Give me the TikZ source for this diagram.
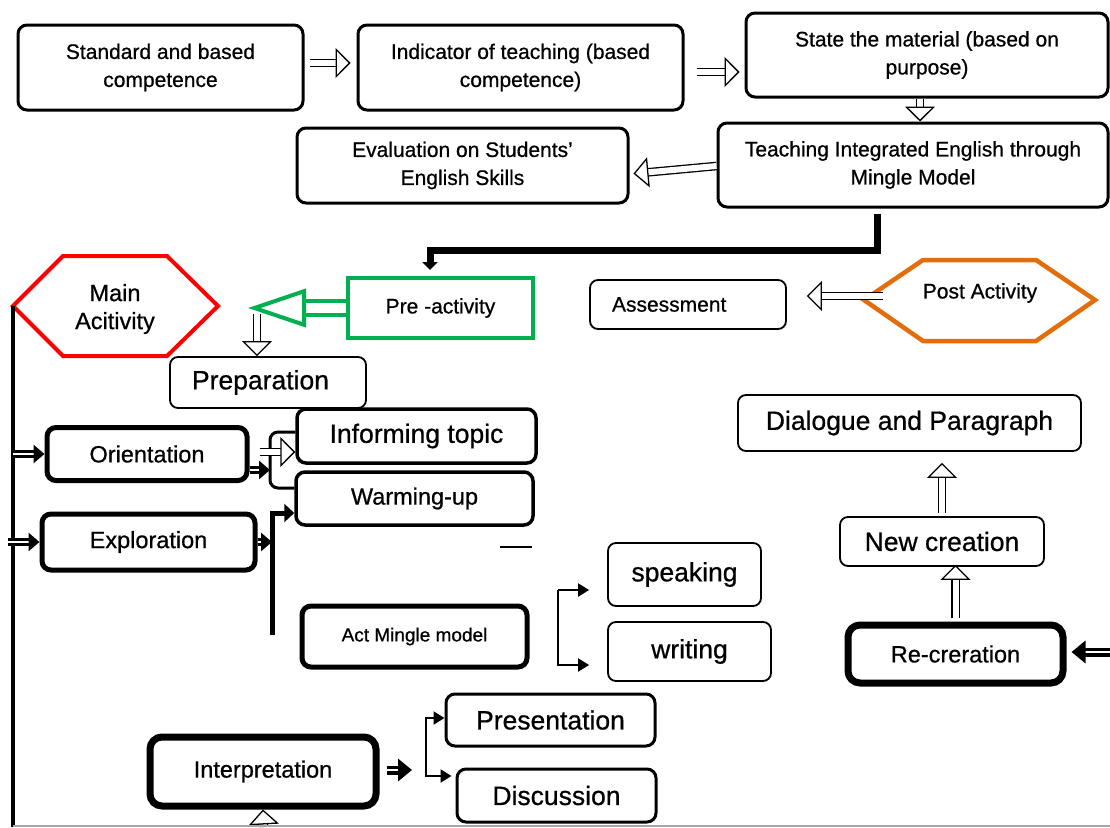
\documentclass[tikz,border=0pt]{standalone}
\usepackage{fontspec}
\setmainfont{Liberation Sans}[FakeBold=0.7,AutoFakeBold=0.7]
\usetikzlibrary{arrows.meta}
\definecolor{hexred}{RGB}{255,0,0}
\definecolor{pregreen}{RGB}{0,176,80}
\definecolor{postorange}{RGB}{228,108,10}

\begin{document}
\begin{tikzpicture}[x=1pt,y=-1pt,
    fn/.style={font=\fontsize{21}{28}\selectfont\bfseries},
    fm/.style={font=\fontsize{23.5}{28}\selectfont\bfseries},
    fl/.style={font=\fontsize{26.5}{30}\selectfont\bfseries},
    box/.style={draw, rounded corners=9pt, line width=3pt, inner sep=0pt, align=center, fn},
    thinbox/.style={box, line width=1.8pt, rounded corners=8pt, fl},
    hollow/.style={double=white, double distance=6pt, line width=1.3pt,
        -{Triangle[open, fill=white, length=15pt, width=30pt, line width=1.3pt]}},
    blk/.style={double=white, double distance=2pt, line width=3pt, -{Triangle[length=11pt, width=18pt]}},
    blkbig/.style={double=white, double distance=2pt, line width=3.5pt, -{Triangle[length=14pt, width=22pt]}},
    brk/.style={line width=2pt, -{Triangle[length=11pt, width=13pt]}}]

    % page frame
    \useasboundingbox (0,0) rectangle (1110,827);

    % top row
    \node[box, minimum width=285pt, minimum height=85pt] (std) at (160.5,67.5) {Standard and based\\competence};
    \node[box, minimum width=325pt, minimum height=85pt] (ind) at (520.5,67.5) {Indicator of teaching (based\\competence)};
    \node[box, minimum width=362pt, minimum height=84pt] (mat) at (927,55) {State the material (based on\\purpose)};
    \node[box, minimum width=390pt, minimum height=84pt] (tie) at (913,165) {Teaching Integrated English through\\Mingle Model};
    \node[box, minimum width=331pt, minimum height=75pt] (eva) at (462.5,165.5) {Evaluation on Students'\\English Skills};

    \draw[hollow, shorten <=5pt, shorten >=6pt] ([yshift=4.5pt]std.east) -- ([yshift=4.5pt]ind.west);
    \draw[hollow, shorten <=12pt, shorten >=5pt] ([yshift=-4.5pt]ind.east) -- ([yshift=-17pt]mat.west);
    \draw[hollow] ([xshift=-7pt]mat.south) -- ([xshift=7pt]tie.north);
    \draw[hollow, shorten >=4pt] ([yshift=-1pt]tie.west) -- ([yshift=-8.5pt]eva.east);

    % main activity
    \node[fm, align=center] (main) at (115,309) {Main\\Acitivity};
    \draw[hexred, line width=4pt] (13,306) -- (63,256) -- (167,256) -- (218,306) -- (167,356) -- (63,356) -- cycle;
    \coordinate (spine) at (13,306);
    \coordinate (spineb) at (13,827);
    \draw[line width=4.5pt] (spine) -- (spineb);

    % pre-activity
    \node[draw=pregreen, line width=4pt, minimum width=185pt, minimum height=60pt, fn] (pre) at (440.5,308) {Pre -activity};
    \coordinate (pretip) at (248,308);
    \draw[pregreen, double=white, double distance=10pt, line width=4pt,
        -{Triangle[open, fill=white, length=58pt, width=38pt, line width=4pt]}] (pre.west) -- (pretip);

    % thick line down to the pre-activity
    \coordinate (bend) at (430,250);
    \draw[line width=7pt, shorten >=6pt, -{Triangle[length=8pt, width=15pt]}]
        ([xshift=-36pt, yshift=-5pt]tie.south) |- (bend) -- ([xshift=-10.5pt]pre.north);

    \node[thinbox, minimum width=196pt, minimum height=51pt, text width=152pt, align=left] (prep) at (268,382.5) {Preparation};
    \coordinate (prepin) at (257,314);
    \draw[hollow] (prepin) -- (prepin |- prep.north);

    % orientation and exploration
    \node[box, line width=5pt, minimum width=200pt, minimum height=53pt, fm] (ori) at (147,454) {Orientation};
    \node[box, line width=5pt, minimum width=213pt, minimum height=56pt, fm] (exp) at (148.5,542) {Exploration};
    \coordinate (expin) at (8,542);
    \draw[blk] (spine |- ori.west) -- (ori.west);
    \draw[blk] (expin) -- (exp.west);

    \node[box, line width=3.5pt, minimum width=239pt, minimum height=54pt, fl] (inf) at (416.5,436) {Informing topic};
    \node[box, line width=3.5pt, minimum width=237pt, minimum height=53pt, fm] (warm) at (414.5,498.5) {Warming-up};

    \coordinate (obrk) at (270,470);
    \draw[line width=3pt, rounded corners=8pt] ([yshift=4pt]inf.west) -| (obrk) |- ([yshift=10.5pt]warm.west);
    \draw[hollow] ([xshift=10pt, yshift=2pt]ori.east) -- ([yshift=-16pt]inf.west);
    \draw[blk] ([yshift=-16pt]ori.east) -- (obrk);

    \coordinate (expbar) at (272,635);
    \draw[line width=5pt, -{Triangle[length=10pt, width=18pt]}] (expbar) |- ([yshift=-14.5pt]warm.west);
    \draw[blk] (exp.east) -- (exp.east -| expbar);
    \draw[line width=1.5pt] (500,547) -- (532,547);

    % act mingle model
    \node[box, line width=5pt, minimum width=225pt, minimum height=61pt, font=\fontsize{19}{24}\selectfont\bfseries] (act) at (414.5,636.5) {Act Mingle model};
    \node[thinbox, minimum width=153pt, minimum height=63pt] (spk) at (684.5,574.5) {speaking};
    \node[thinbox, minimum width=163pt, minimum height=59pt] (wri) at (689.5,651.5) {writing};
    \coordinate (actbr) at (558,590);
    \draw[brk, shorten >=18pt] (actbr) -- ([yshift=-15.5pt]spk.west);
    \draw[brk, shorten >=18pt] (actbr) |- ([yshift=-13.5pt]wri.west);

    % interpretation
    \node[box, line width=7pt, rounded corners=12pt, minimum width=226pt, minimum height=69pt, fm] (int) at (263,771.5) {Interpretation};
    \node[box, minimum width=209pt, minimum height=52pt, fl] (pres) at (550.5,720) {Presentation};
    \node[box, minimum width=199pt, minimum height=53pt, fl] (disc) at (556.5,795.5) {Discussion};
    \coordinate (intout) at (412,770);
    \coordinate (intbr) at (426,746);
    \draw[blkbig] ([xshift=7pt, yshift=1.5pt]int.east) -- (intout);
    \draw[brk] (intbr) |- ([yshift=2pt]pres.west);
    \draw[brk, shorten >=4pt] (intbr) |- ([yshift=19.5pt]disc.west);
    \coordinate (intin) at (264,827);
    \draw[hollow] (intin) -- (int.south);

    % bottom edge
    \draw[gray!70, line width=1.2pt] (13,826) -- (1110,826);

    % post activity side
    \node[thinbox, minimum width=196pt, minimum height=49pt, fn, text width=152pt, align=left] (ass) at (688,304.5) {Assessment};
    \node[fn] (post) at (980,293) {Post Activity};
    \draw[postorange, line width=4.5pt] (864,300) -- (923,260) -- (1036,260) -- (1095,300) -- (1036,341) -- (923,341) -- cycle;
    \coordinate (postout) at (883,296);
    \draw[hollow, shorten >=20pt] (postout) -- (postout -| ass.east);

    \node[thinbox, minimum width=343pt, minimum height=56pt] (dia) at (909.5,423) {Dialogue and Paragraph};
    \node[thinbox, minimum width=204pt, minimum height=49pt] (new) at (942,541.5) {New creation};
    \node[box, line width=7pt, rounded corners=12pt, minimum width=215pt, minimum height=58pt, fm] (rec) at (955.5,654) {Re-creration};
    \draw[hollow, shorten <=3pt, shorten >=11pt] (new.north) -- (new.north |- dia.south);
    \draw[hollow, shorten <=4pt, shorten >=-2pt] (rec.north) -- (rec.north |- new.south);
    \coordinate (recin) at (1110,652);
    \draw[blkbig, shorten >=5pt] (recin) -- ([yshift=2pt]rec.east);
\end{tikzpicture}
\end{document}
